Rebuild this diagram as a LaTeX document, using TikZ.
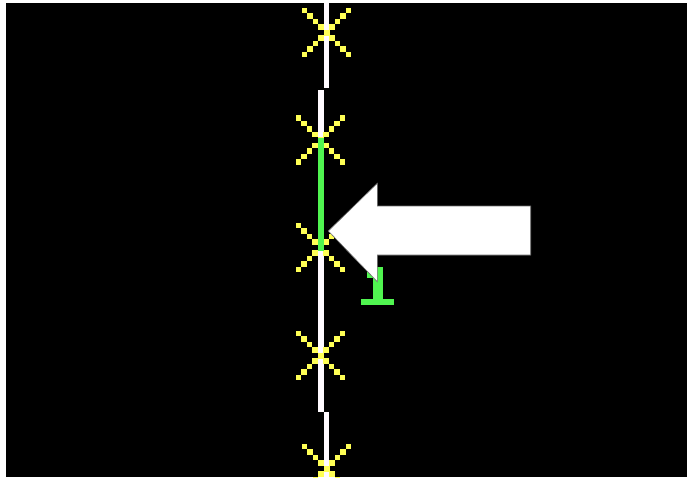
\documentclass[tikz,border=0pt]{standalone}
\usepackage{tikz}
\usetikzlibrary{calc}
\definecolor{railwhite}{RGB}{255,250,255}
\definecolor{sparkyellow}{RGB}{255,255,85}
\definecolor{litgreen}{RGB}{80,245,80}
\definecolor{edgegray}{RGB}{110,110,110}

\begin{document}
\begin{tikzpicture}[
  x=1pt,y=-1pt,
  rail/.style={fill=railwhite},
  spark/.style={fill=sparkyellow},
  lit/.style={fill=litgreen},
  bigarrow/.style={fill=white,draw=edgegray,line width=.6pt,line join=miter}
]
\useasboundingbox (0,0) rectangle (687,477);
\fill[white] (0,0) rectangle (687,477);
\fill[black] (6,3) rectangle (687,477);
\fill[rail] (324.3,3) rectangle (329,88.3);
\fill[rail] (317.7,90) rectangle (323.7,411.7);
\fill[rail] (324.3,412) rectangle (329,477);
\foreach \cx/\cy [count=\i] in {326.6/32.5,320.7/140,320.7/247.5,320.7/355.5,326.6/468.5}{
  \coordinate (spark\i) at (\cx,\cy);
  \fill[spark] ($(spark\i)+(-3,-3)$) rectangle +(6,6);
  \foreach \d in {5.5,11,16.5,22}
    \foreach \sx/\sy in {-1/-1,-1/1,1/-1,1/1}
      \fill[spark] ($(spark\i)+(\sx*\d-2.75,\sy*\d-2.75)$) rectangle +(5.5,5.5);
}
\fill[lit] (317.7,137.7) rectangle (323.7,251);
\fill[lit] (373,267) rectangle (383,300);
\fill[lit] (367,272) rectangle (373,278);
\fill[lit] (361,299) rectangle (394,304.5);
\coordinate (tip) at (328.3,231);
\draw[bigarrow] (tip) -- (377.3,183.3) -- (377.3,206) -- (530.7,206) -- (530.7,255)
  -- (377.3,255) -- (377.3,281.7) -- cycle;
\end{tikzpicture}
\end{document}
